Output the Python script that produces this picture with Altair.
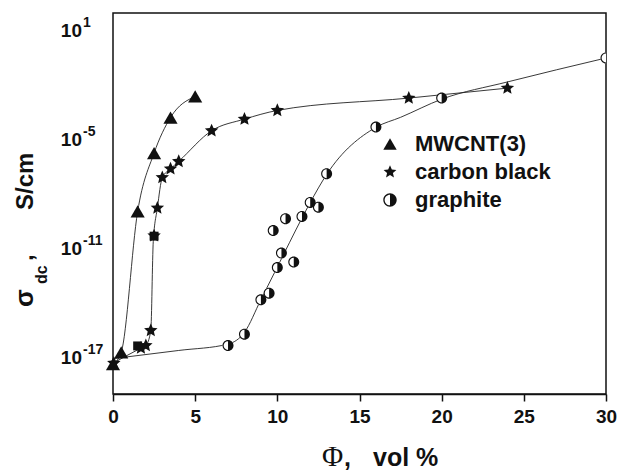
import math
import altair as alt
import pandas as pd

# ---- data: Φ (vol %) and log10(σ_dc / S cm^-1) ----
mwcnt_phi = [0.0, 0.5, 1.5, 2.5, 3.5, 5.0]
mwcnt_log = [-17.35, -16.7, -8.94, -5.72, -3.76, -2.6]

cb_phi = [0.05, 1.7, 2.0, 2.3, 2.5, 2.7, 3.0, 3.5, 4.0, 6.0, 8.0, 10.0, 18.0, 24.0]
cb_log = [-17.3, -16.47, -16.33, -15.5, -10.28, -8.75, -7.07, -6.59, -6.18,
          -4.49, -3.85, -3.37, -2.69, -2.14]

gr_phi = [7.0, 8.0, 9.0, 9.5, 9.75, 10.0, 10.25, 10.5, 11.0, 11.5, 12.0, 12.5,
          13.0, 16.0, 20.0, 30.0]
gr_log = [-16.33, -15.7, -13.81, -13.44, -9.99, -12.03, -11.23, -9.34, -11.73,
          -9.21, -8.44, -8.7, -6.86, -4.29, -2.69, -0.48]

sq_phi = [1.5, 2.5]
sq_log = [-16.35, -10.3]

# guide curves drawn in the figure
mwcnt_fit_phi = [0.0, 0.5, 1.5, 2.5, 3.5, 5.0]
mwcnt_fit_log = [-17.35, -16.7, -8.94, -5.72, -3.76, -2.6]
cb_fit_phi = [0.0, 1.7, 2.0, 2.3, 2.45, 2.7, 3.0, 3.5, 4.0, 6.0, 8.0, 10.0, 18.0, 24.0]
cb_fit_log = [-17.3, -16.47, -16.33, -15.5, -10.6, -8.75, -7.07, -6.59, -6.18,
              -4.49, -3.85, -3.37, -2.69, -2.14]
gr_fit_phi = [0.0, 4.0, 7.0, 8.0, 9.0, 10.0, 11.5, 12.0, 13.0, 16.0, 17.5, 20.0, 24.0, 30.0]
gr_fit_log = [-17.05, -16.6, -16.25, -15.6, -13.8, -12.0, -9.3, -8.45, -6.9,
              -4.3, -3.75, -2.75, -1.8, -0.48]

series_names = ["MWCNT(3)", "carbon black", "graphite"]
x_ticks = [0, 5, 10, 15, 20, 25, 30]
y_label_exps = [1, -5, -11, -17]
y_label_texts = ["1", "-5", "-11", "-17"]

FONT = "Liberation Sans"
SERIF = "Liberation Serif"


def frame(phi, logs, name):
    return pd.DataFrame({"phi": phi, "sigma": [10.0 ** v for v in logs], "series": name})


lines_df = pd.concat([
    frame(mwcnt_fit_phi, mwcnt_fit_log, "mwcnt"),
    frame(cb_fit_phi, cb_fit_log, "cb"),
    frame(gr_fit_phi, gr_fit_log, "gr"),
], ignore_index=True)
pts_df = pd.concat([
    frame(mwcnt_phi, mwcnt_log, series_names[0]),
    frame(cb_phi, cb_log, series_names[1]),
], ignore_index=True)
gr_df = frame(gr_phi, gr_log, series_names[2])
sq_df = frame(sq_phi, sq_log, "square")
ytl_df = pd.DataFrame({"sigma": [10.0 ** e for e in y_label_exps], "exp": y_label_texts})

# ---- marker shapes (unit-square SVG paths) ----
def star_path(inner=0.46):
    pts = []
    for i in range(10):
        r = 1.0 if i % 2 == 0 else inner
        a = math.radians(-90 + 36 * i)
        pts.append(f"{r * math.cos(a):.4f},{r * math.sin(a):.4f}")
    return "M" + "L".join(pts) + "Z"


STAR = star_path()
GRAPHITE = ("M0,-1A1,1 0 1,1 0,1A1,1 0 1,1 0,-1Z"
            "M0,-0.8A0.8,0.8 0 0,0 0,0.8Z")

x_scale = alt.Scale(domain=[0, 30], nice=False, zero=False)
y_scale = alt.Scale(type="log", domain=[1e-19, 1e2], nice=False)

x_axis = alt.Axis(values=x_ticks, title=None, grid=False, labelFont=FONT,
                  labelFontWeight="bold", labelFontSize=19, labelColor="#111",
                  tickSize=7, tickWidth=1.5, tickColor="#111", domainColor="#111",
                  domainWidth=1.5, labelPadding=6, labelFlush=False,
                  labelOverlap=False)
y_axis = alt.Axis(values=[10.0 ** e for e in range(-19, 3)], labels=False,
                  title=None, grid=False, tickSize=7, tickWidth=1.5,
                  tickColor="#111", domainColor="#111", domainWidth=1.5)

X = alt.X("phi:Q", scale=x_scale, axis=x_axis)
Y = alt.Y("sigma:Q", scale=y_scale, axis=y_axis)

shape_scale = alt.Scale(domain=series_names, range=["triangle-up", STAR, GRAPHITE])
shape_enc = alt.Shape("series:N", scale=shape_scale,
                      legend=alt.Legend(title=None, orient="none", legendX=266,
                                        legendY=120))

lines = alt.Chart(lines_df).mark_line(
    color="#222", strokeWidth=0.9, interpolate="monotone"
).encode(x=X, y=Y, detail="series:N")

white_disc = alt.Chart(gr_df).mark_point(
    shape="circle", filled=True, color="white", opacity=1, size=121, clip=True
).encode(x=X, y=Y)

gr_pts = alt.Chart(gr_df).mark_point(
    filled=True, color="#111", opacity=1, size=121, clip=True
).encode(x=X, y=Y, shape=shape_enc)

pts = alt.Chart(pts_df).mark_point(
    filled=True, color="#111", opacity=1, size=200
).encode(x=X, y=Y, shape=shape_enc)

squares = alt.Chart(sq_df).mark_point(
    shape="square", filled=True, color="#111", opacity=1, size=80
).encode(x=X, y=Y)

Yn = alt.Y("sigma:Q", scale=y_scale, axis=None)
ten = alt.Chart(ytl_df).mark_text(
    text="10", align="right", baseline="middle", font=FONT, fontSize=19,
    fontWeight="bold", color="#111"
).encode(x=alt.value(-31), y=Yn)
expo = alt.Chart(ytl_df).mark_text(
    align="left", baseline="middle", dy=-8, font=FONT, fontSize=14,
    fontWeight="bold", color="#111"
).encode(x=alt.value(-30), y=Yn, text="exp:N")

one = pd.DataFrame({"k": [0]})


def label(txt, x, y, size, font=FONT, weight="bold", angle=0):
    return alt.Chart(one).mark_text(
        text=txt, align="left", baseline="alphabetic", font=font, fontSize=size,
        fontWeight=weight, angle=angle, color="#111"
    ).encode(x=alt.value(x), y=alt.value(y))


ytitle = (label("σ", -80, 294, 26, angle=270)
          + label("dc", -66, 271, 16, angle=270)
          + label(",", -80, 248, 24, angle=270)
          + label("S/cm", -80, 197, 24, angle=270))
xtitle = (label("Φ", 209, 452.7, 29, font=SERIF, weight="normal")
          + label(",", 231, 452.7, 25)
          + label("vol %", 260, 452.7, 25))

chart = alt.layer(
    lines, white_disc, gr_pts, pts, squares, ten, expo, ytitle, xtitle
).properties(
    width=493, height=381,
    autosize=alt.AutoSizeParams(type="none"),
    padding={"left": 113, "top": 13, "right": 14, "bottom": 78},
).configure_view(
    stroke="#111", strokeWidth=1.5
).configure_legend(
    padding=0, labelFont=FONT, labelFontWeight="bold", labelFontSize=22,
    labelColor="#111", symbolFillColor="#111", symbolStrokeWidth=0,
    symbolSize=180, rowPadding=6, labelOffset=14
)

chart.save("out.html", embed_options={"renderer": "svg", "actions": False})
